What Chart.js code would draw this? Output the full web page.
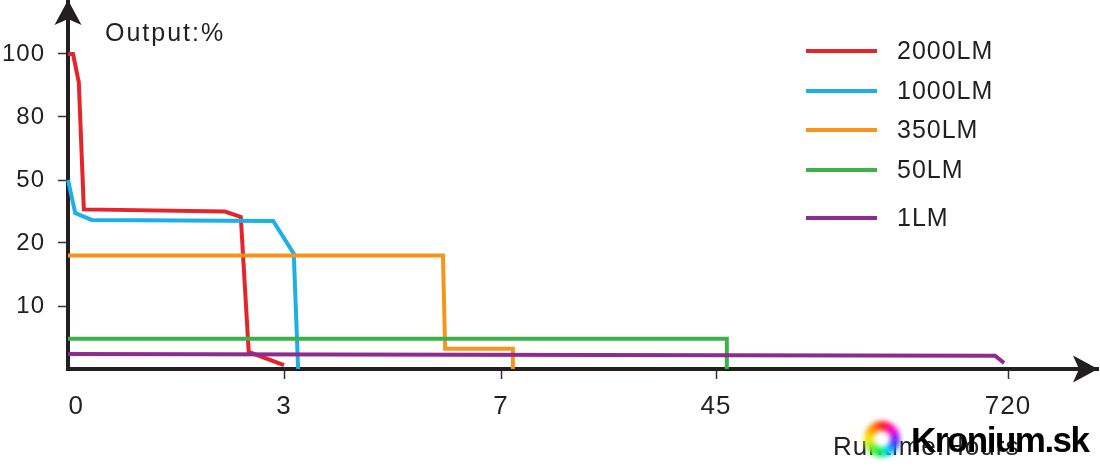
<!DOCTYPE html>
<html><head><meta charset="utf-8">
<script src="https://cdn.jsdelivr.net/npm/chart.js@4.4.0/dist/chart.umd.min.js"></script>
<style>html,body{margin:0;padding:0;background:#fff}#wrap{width:1100px;height:470px}</style>
</head><body><div id="wrap"><canvas id="c" width="1100" height="470"></canvas></div>
<script>
// ---- data ----
const seriesNames = ['2000LM', '1000LM', '350LM', '50LM', '1LM'];
const xTickHours = [0, 3, 7, 45, 720];
const xTickLabels = ['0', '3', '7', '45', '720'];
const yLevels = [0, 10, 20, 50, 80, 100];
const yTickLabels = ['', '10', '20', '50', '80', '100'];

const hours2000 = [0, 0.07, 0.15, 0.22, 2.18, 2.40, 2.51, 3.0];
const output2000 = [100, 100, 91, 36, 35, 32.4, 2.7, 0.6];
const hours1000 = [0, 0.10, 0.33, 2.85, 3.18, 3.26];
const output1000 = [50, 34.3, 31, 30.5, 18.3, 0];
const hours350 = [0, 5.93, 5.97, 9.1, 9.1];
const output350 = [18, 18, 3.2, 3.2, 0];
const hours50 = [0, 70, 70];
const output50 = [4.8, 4.8, 0];
const hours1 = [0, 690, 711];
const output1 = [2.4, 2.1, 0.95];

// ---- layout / style ----
const xTickPos = [0, 216, 433, 648, 940];   // axis positions of the hour ticks
const colors = ['#e4252a', '#1cb0e6', '#f7941e', '#3cb04a', '#8d2b8e'];
const legendY = [51, 91, 130, 170, 218];
const ink = '#231f20';
const FONT = "'Liberation Sans', Arial, sans-serif";

function toX(h) {
  for (let i = 0; i < xTickHours.length - 1; i++) {
    const a = xTickHours[i], b = xTickHours[i + 1];
    if (h <= b || i === xTickHours.length - 2) {
      return xTickPos[i] + (h - a) / (b - a) * (xTickPos[i + 1] - xTickPos[i]);
    }
  }
}
function toY(p) {
  for (let i = 0; i < yLevels.length - 1; i++) {
    const a = yLevels[i], b = yLevels[i + 1];
    if (p <= b || i === yLevels.length - 2) return i + (p - a) / (b - a);
  }
}
const allHours = [hours2000, hours1000, hours350, hours50, hours1];
const allOut = [output2000, output1000, output350, output50, output1];

const datasets = seriesNames.map((name, i) => ({
  label: name,
  data: allHours[i].map((h, k) => ({ x: toX(h), y: toY(allOut[i][k]) })),
  borderColor: colors[i],
  borderWidth: 4,
  pointRadius: 0,
  tension: 0,
  clip: false,
  order: -i
}));

const decor = {
  id: 'decor',
  beforeDraw(chart) {
    chart.ctx.letterSpacing = '1px';
  },
  afterDraw(chart) {
    const ctx = chart.ctx;
    const xs = chart.scales.x, ys = chart.scales.y;
    const ox = xs.getPixelForValue(0), oy = ys.getPixelForValue(0);
    ctx.save();
    ctx.fillStyle = ink;
    // y arrow
    ctx.beginPath();
    ctx.moveTo(ox, 0);
    ctx.lineTo(ox + 13.5, 25);
    ctx.lineTo(ox, 19);
    ctx.lineTo(ox - 13.5, 25);
    ctx.closePath();
    ctx.fill();
    // x arrow
    const ex = chart.width - 2;
    ctx.beginPath();
    ctx.moveTo(ex, oy);
    ctx.lineTo(ex - 25, oy - 13.5);
    ctx.lineTo(ex - 19, oy);
    ctx.lineTo(ex - 25, oy + 13.5);
    ctx.closePath();
    ctx.fill();

    // titles
    ctx.font = '25px ' + FONT;
    ctx.letterSpacing = '2px';
    ctx.textBaseline = 'middle';
    ctx.textAlign = 'left';
    ctx.fillText('Output:%', 105, 34);
    ctx.letterSpacing = '1px';
    ctx.font = '26px ' + FONT;
    ctx.fillText('Runtime:Hours', 833, 448);

    // legend
    ctx.font = '25px ' + FONT;
    chart.data.datasets.forEach((ds, i) => {
      ctx.strokeStyle = ds.borderColor;
      ctx.lineWidth = 4;
      ctx.beginPath();
      ctx.moveTo(806, legendY[i]);
      ctx.lineTo(877, legendY[i]);
      ctx.stroke();
      ctx.fillStyle = ink;
      ctx.fillText(ds.label, 897, legendY[i] + 1);
    });

    // watermark
    const cx = 882, cy = 439;
    ctx.filter = 'blur(2.5px)';
    const g = ctx.createConicGradient(-Math.PI / 2, cx, cy);
    [[0, '#ff1a1a'], [0.15, '#ff00e0'], [0.3, '#3a40ff'], [0.42, '#00d8ff'], [0.55, '#10f040'], [0.75, '#ffee00'], [0.9, '#ff8000'], [1, '#ff1a1a']]
      .forEach(([o, c]) => g.addColorStop(o, c));
    ctx.fillStyle = g;
    ctx.beginPath();
    ctx.arc(cx, cy, 18, 0, Math.PI * 2);
    ctx.fill();
    ctx.fillStyle = '#fff';
    ctx.beginPath();
    ctx.arc(cx, cy, 8.5, 0, Math.PI * 2);
    ctx.fill();
    ctx.filter = 'none';
    ctx.fillStyle = '#000';
    ctx.font = 'bold 35px ' + FONT;
    ctx.letterSpacing = '-1.5px';
    ctx.textBaseline = 'alphabetic';
    ctx.fillText('Kronium.sk', 911, 452);
    ctx.restore();
  }
};

new Chart(document.getElementById('c'), {
  type: 'line',
  data: { datasets },
  options: {
    responsive: false,
    animation: false,
    devicePixelRatio: 1,
    layout: { padding: { left: 0, right: 2, top: 0, bottom: 0 } },
    plugins: { legend: { display: false }, tooltip: { enabled: false } },
    scales: {
      x: {
        type: 'linear',
        min: 0,
        max: 1030,
        afterFit(s) { s.height = 101; s.paddingLeft = 0; s.paddingRight = 0; },
        afterBuildTicks(s) { s.ticks = xTickPos.map(v => ({ value: v })); },
        ticks: {
          autoSkip: false,
          maxRotation: 0,
          padding: 12,
          color: ink,
          font: { size: 26, family: FONT },
          callback: (v, i) => (i === 0 ? '  ' : '') + xTickLabels[i]
        },
        grid: {
          drawOnChartArea: false,
          drawTicks: true,
          tickLength: 10,
          tickWidth: 1.5,
          tickColor: c => c.index === 0 ? 'rgba(0,0,0,0)' : '#333'
        },
        border: { display: true, color: ink, width: 4 }
      },
      y: {
        type: 'linear',
        min: 0,
        max: 369 / 63,
        afterFit(s) { s.width = 68; s.paddingTop = 0; s.paddingBottom = 0; },
        afterBuildTicks(s) { s.ticks = [1, 2, 3, 4, 5].map(v => ({ value: v })); },
        ticks: {
          autoSkip: false,
          padding: 13,
          color: ink,
          font: { size: 24, family: FONT },
          callback: (v) => yTickLabels[Math.round(v)]
        },
        grid: {
          drawOnChartArea: false,
          drawTicks: true,
          tickLength: 10,
          tickWidth: 1.5,
          tickColor: '#333'
        },
        border: { display: true, color: ink, width: 4 }
      }
    }
  },
  plugins: [decor]
});
</script></body></html>
